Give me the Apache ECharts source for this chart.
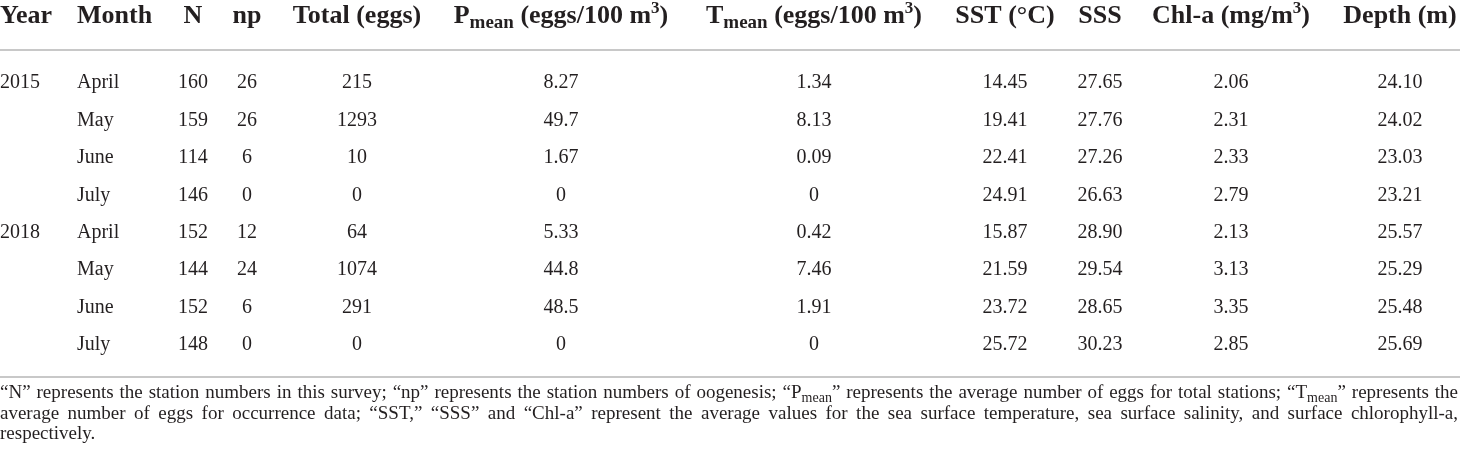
<!DOCTYPE html>
<html>
<head>
<meta charset="UTF-8" />
<script type="text/javascript" src="https://cdn.jsdelivr.net/npm/echarts@6.0.0/dist/echarts.min.js"></script>
<style>
	body { margin: 0; background: #ffffff; }
</style>
</head>
<body>
	<div id="chartmain" style="width: 1460px; height: 463px;"></div>

	<script type="text/javascript">
		// table values
		var years = ['2015', '', '', '', '2018', '', '', ''];
		var months = ['April', 'May', 'June', 'July', 'April', 'May', 'June', 'July'];
		var stations = ['160', '159', '114', '146', '152', '144', '152', '148'];
		var positives = ['26', '26', '6', '0', '12', '24', '6', '0'];
		var totals = ['215', '1293', '10', '0', '64', '1074', '291', '0'];
		var pMean = ['8.27', '49.7', '1.67', '0', '5.33', '44.8', '48.5', '0'];
		var tMean = ['1.34', '8.13', '0.09', '0', '0.42', '7.46', '1.91', '0'];
		var sst = ['14.45', '19.41', '22.41', '24.91', '15.87', '21.59', '23.72', '25.72'];
		var sss = ['27.65', '27.76', '27.26', '26.63', '28.90', '29.54', '28.65', '30.23'];
		var chla = ['2.06', '2.31', '2.33', '2.79', '2.13', '3.13', '3.35', '2.85'];
		var depth = ['24.10', '24.02', '23.03', '23.21', '25.57', '25.29', '25.48', '25.69'];

		var headers = ['Year', 'Month', 'N', 'np', 'Total (eggs)',
			'P{s|mean} (eggs/100 m{p|3})', 'T{s|mean} (eggs/100 m{p|3})',
			'SST (°C)', 'SSS', 'Chl-a (mg/m{p|3})', 'Depth (m)'];

		var notes = [
			'“N” represents the station numbers in this survey; “np” represents the station numbers of oogenesis; “P{s|mean}” represents the average number of eggs for total stations; “T{s|mean}” represents the',
			'average number of eggs for occurrence data; “SST,” “SSS” and “Chl-a” represent the average values for the sea surface temperature, sea surface salinity, and surface chlorophyll-a,',
			'respectively.'
		];

		// layout
		var colX = [0, 77, 193, 247, 357, 561, 814, 1005, 1100, 1231, 1400];
		var colAlign = ['left', 'left', 'center', 'center', 'center', 'center', 'center', 'center', 'center', 'center', 'center'];
		var headerRow = -1.78;
		var ruleRows = [-0.88, 7.86];
		var noteY = [393, 414, 434];
		var FONT = '"Liberation Serif", "Times New Roman", serif';
		var INK = '#231f20';

		var columns = [years, months, stations, positives, totals, pMean, tMean, sst, sss, chla, depth];
		var cells = [];
		columns.forEach(function (col, c) {
			cells.push({ col: c, row: headerRow, text: headers[c], head: true });
			col.forEach(function (v, r) {
				if (v !== '') cells.push({ col: c, row: r, text: v, head: false });
			});
		});

		function cellStyle(d) {
			if (d.head) {
				return {
					text: d.text, fill: INK, fontFamily: FONT, fontSize: 26, fontWeight: 'bold',
					lineHeight: 32, align: colAlign[d.col], verticalAlign: 'middle',
					rich: {
						s: { fontFamily: FONT, fontSize: 19, fontWeight: 'bold', fill: INK, verticalAlign: 'bottom', lineHeight: 19 },
						p: { fontFamily: FONT, fontSize: 17, fontWeight: 'bold', fill: INK, verticalAlign: 'top', lineHeight: 17 }
					}
				};
			}
			return {
				text: d.text, fill: INK, fontFamily: FONT, fontSize: 20,
				align: colAlign[d.col], verticalAlign: 'middle'
			};
		}

		// footnote: justify the first two lines word by word
		var ctx = document.createElement('canvas').getContext('2d');
		function measure(str) {
			var w = 0;
			str.split(/(\{s\|[^}]*\})/).forEach(function (part) {
				var m = part.match(/^\{s\|([^}]*)\}$/);
				ctx.font = (m ? 14 : 19) + 'px ' + FONT;
				w += ctx.measureText(m ? m[1] : part).width;
			});
			return w;
		}
		var noteRich = {
			s: { fontFamily: FONT, fontSize: 14, fill: INK, verticalAlign: 'bottom', lineHeight: 14 }
		};
		var graphics = [];
		notes.forEach(function (line, i) {
			var words = line.split(' ');
			var widths = words.map(measure);
			var sum = widths.reduce(function (a, b) { return a + b; }, 0);
			var gap = i < 2 ? (1458 - sum) / (words.length - 1) : measure(' ');
			var x = 0;
			words.forEach(function (w, k) {
				graphics.push({
					type: 'text', x: x, y: noteY[i], silent: true,
					style: {
						text: w, fill: INK, fontFamily: FONT, fontSize: 19, lineHeight: 24,
						align: 'left', verticalAlign: 'middle', rich: noteRich
					}
				});
				x += widths[k] + gap;
			});
		});

		var option = {
			animation: false,
			grid: { left: 0, right: 0, top: 8.14, bottom: 43.13 },
			xAxis: { type: 'value', min: 0, max: 1460, show: false },
			yAxis: { type: 'value', min: -2, max: 9, inverse: true, show: false },
			graphic: graphics,
			series: [{
				type: 'custom',
				data: cells.map(function (d) { return [colX[d.col], d.row]; }),
				renderItem: function (params, api) {
					var d = cells[params.dataIndex];
					var pt = api.coord([api.value(0), api.value(1)]);
					return { type: 'text', x: pt[0], y: pt[1], style: cellStyle(d) };
				},
				markLine: {
					silent: true,
					symbol: 'none',
					label: { show: false },
					lineStyle: { color: '#c8c8c8', width: 2, type: 'solid' },
					data: ruleRows.map(function (y) { return { yAxis: y }; })
				}
			}]
		};

		var myChart = echarts.init(document.getElementById('chartmain'));
		myChart.setOption(option);
	</script>
</body>
</html>
